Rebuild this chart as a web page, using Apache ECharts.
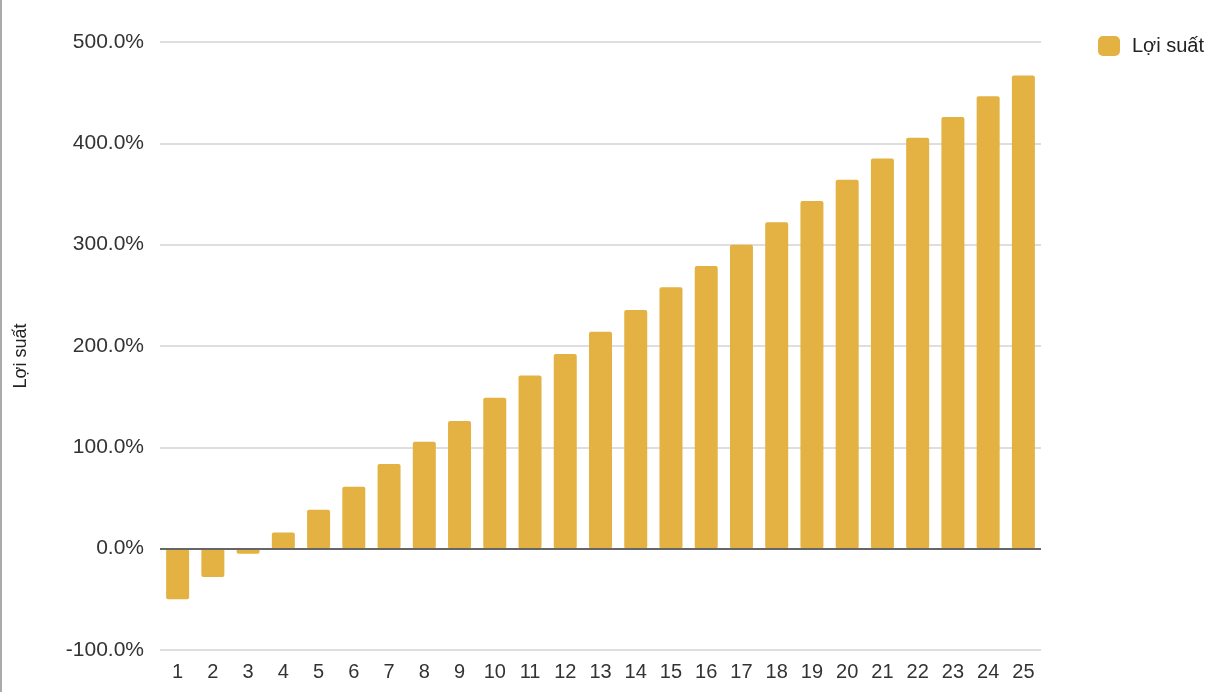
<!DOCTYPE html>
<html>
<head>
<meta charset="utf-8">
<script src="https://cdn.jsdelivr.net/npm/echarts@6/dist/echarts.min.js"></script>
<style>
  html, body { margin: 0; padding: 0; background: #fff; }
  #chart-container { width: 1212px; height: 692px; box-sizing: border-box; border-left: 2px solid #aaa; }
</style>
</head>
<body>
<div id="chart-container"></div>
<script>
const years = [
  "1", "2", "3", "4", "5", "6", "7", "8", "9", "10", "11", "12", "13",
  "14", "15", "16", "17", "18", "19", "20", "21", "22", "23", "24", "25",
];

const yieldValues = [
  -50, -28, -5, 16, 38.5, 61, 83.5, 105.5, 126, 149, 171, 192, 214,
  235.5, 258, 279, 300, 322, 343, 364, 385, 405.5, 426, 446.5, 467,
];

const seriesName = "Lợi suất";

const dom = document.getElementById("chart-container");
const myChart = echarts.init(dom, null, { renderer: "canvas" });

const font = "Liberation Sans, Arial, sans-serif";

const option = {
  animation: false,
  textStyle: { fontFamily: font },
  legend: {
    left: 1091,
    top: 31,
    itemWidth: 22,
    itemHeight: 20,
    itemGap: 10,
    icon: "roundRect",
    textStyle: {
      fontSize: 20,
      color: "#222",
      fontFamily: font,
      padding: [0, 0, 0, 7],
    },
    data: [seriesName],
  },
  grid: {
    left: 158,
    right: 171,
    top: 42,
    bottom: 42,
  },
  xAxis: {
    type: "category",
    data: years,
    axisTick: { show: false },
    axisLine: { show: false },
    axisLabel: {
      fontSize: 20,
      color: "#333",
      margin: 12,
      interval: 0,
      fontFamily: font,
    },
  },
  yAxis: {
    type: "value",
    min: -100,
    max: 500,
    interval: 100,
    name: seriesName,
    nameLocation: "middle",
    nameGap: 130,
    nameTextStyle: {
      fontSize: 18,
      color: "#222",
      fontFamily: font,
      padding: [0, 20, 0, 0],
    },
    axisLine: { show: false },
    axisTick: { show: false },
    axisLabel: {
      fontSize: 21,
      color: "#333",
      margin: 16,
      fontFamily: font,
      formatter: (v) => v.toFixed(1) + "%",
    },
    splitLine: { lineStyle: { color: "#dedede", width: 2 } },
  },
  series: [
    {
      name: seriesName,
      type: "bar",
      data: yieldValues,
      barWidth: 23,
      color: "#E4B242",
      itemStyle: { borderRadius: 2 },
      markLine: {
        silent: true,
        symbol: "none",
        label: { show: false },
        lineStyle: { color: "#666", width: 2, type: "solid" },
        data: [{ yAxis: 0 }],
      },
    },
  ],
};

myChart.setOption(option);
window.addEventListener("resize", myChart.resize);
</script>
</body>
</html>
